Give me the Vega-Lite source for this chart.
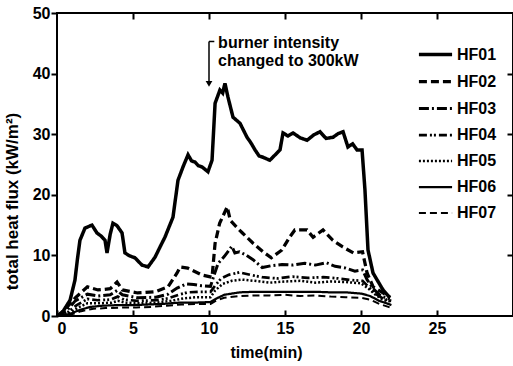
{
  "$schema": "https://vega.github.io/schema/vega-lite/v6.json",
  "width": 456,
  "height": 303,
  "autosize": {"type": "none"},
  "padding": {"left": 57, "top": 13, "right": 0, "bottom": 50},
  "background": "white",
  "config": {
    "view": {"stroke": "black", "strokeWidth": 2},
    "font": "Liberation Sans"
  },
  "datasets": {
    "flux": [
      {"s":"HF01","t":0,"q":0},{"s":"HF01","t":0.33,"q":0.5},{"s":"HF01","t":0.86,"q":2.6},{"s":"HF01","t":1.18,"q":5.9},{"s":"HF01","t":1.35,"q":9.5},{"s":"HF01","t":1.51,"q":12.5},{"s":"HF01","t":1.84,"q":14.5},{"s":"HF01","t":2.3,"q":15.0},{"s":"HF01","t":2.63,"q":13.7},{"s":"HF01","t":2.9,"q":13.2},{"s":"HF01","t":3.16,"q":12.5},{"s":"HF01","t":3.29,"q":10.4},{"s":"HF01","t":3.5,"q":13.5},{"s":"HF01","t":3.68,"q":15.3},{"s":"HF01","t":3.95,"q":14.9},{"s":"HF01","t":4.28,"q":13.7},{"s":"HF01","t":4.47,"q":10.4},{"s":"HF01","t":4.8,"q":9.9},{"s":"HF01","t":5.13,"q":9.6},{"s":"HF01","t":5.59,"q":8.4},{"s":"HF01","t":5.99,"q":8.1},{"s":"HF01","t":6.45,"q":9.7},{"s":"HF01","t":6.8,"q":11.5},{"s":"HF01","t":7.1,"q":13.0},{"s":"HF01","t":7.63,"q":16.3},{"s":"HF01","t":7.96,"q":22.4},{"s":"HF01","t":8.29,"q":24.6},{"s":"HF01","t":8.62,"q":26.6},{"s":"HF01","t":8.85,"q":25.6},{"s":"HF01","t":9.08,"q":25.4},{"s":"HF01","t":9.3,"q":24.8},{"s":"HF01","t":9.54,"q":24.6},{"s":"HF01","t":9.93,"q":23.8},{"s":"HF01","t":10.2,"q":25.7},{"s":"HF01","t":10.4,"q":35.1},{"s":"HF01","t":10.72,"q":37.3},{"s":"HF01","t":10.9,"q":36.8},{"s":"HF01","t":11.05,"q":38.4},{"s":"HF01","t":11.25,"q":36.1},{"s":"HF01","t":11.58,"q":32.8},{"s":"HF01","t":12.04,"q":31.8},{"s":"HF01","t":12.5,"q":29.5},{"s":"HF01","t":12.75,"q":28.6},{"s":"HF01","t":13.03,"q":27.4},{"s":"HF01","t":13.3,"q":26.4},{"s":"HF01","t":13.55,"q":26.2},{"s":"HF01","t":14.0,"q":25.7},{"s":"HF01","t":14.67,"q":27.4},{"s":"HF01","t":14.87,"q":30.2},{"s":"HF01","t":15.2,"q":29.7},{"s":"HF01","t":15.53,"q":30.2},{"s":"HF01","t":16.0,"q":29.4},{"s":"HF01","t":16.45,"q":29.0},{"s":"HF01","t":16.9,"q":29.9},{"s":"HF01","t":17.3,"q":30.4},{"s":"HF01","t":17.7,"q":29.3},{"s":"HF01","t":18.16,"q":29.5},{"s":"HF01","t":18.5,"q":30.1},{"s":"HF01","t":18.82,"q":30.4},{"s":"HF01","t":19.14,"q":27.9},{"s":"HF01","t":19.45,"q":28.4},{"s":"HF01","t":19.74,"q":27.4},{"s":"HF01","t":20.07,"q":27.4},{"s":"HF01","t":20.26,"q":20.8},{"s":"HF01","t":20.46,"q":10.9},{"s":"HF01","t":20.79,"q":7.1},{"s":"HF01","t":21.45,"q":4.3},{"s":"HF01","t":21.9,"q":3.0},
      {"s":"HF02","t":0,"q":0},{"s":"HF02","t":0.5,"q":1.0},{"s":"HF02","t":1.2,"q":3.0},{"s":"HF02","t":2.0,"q":4.8},{"s":"HF02","t":2.7,"q":4.3},{"s":"HF02","t":3.5,"q":4.5},{"s":"HF02","t":3.95,"q":5.6},{"s":"HF02","t":4.3,"q":4.3},{"s":"HF02","t":5.3,"q":3.8},{"s":"HF02","t":6.45,"q":4.0},{"s":"HF02","t":7.3,"q":4.8},{"s":"HF02","t":7.9,"q":7.1},{"s":"HF02","t":8.1,"q":8.1},{"s":"HF02","t":8.6,"q":7.9},{"s":"HF02","t":9.5,"q":6.8},{"s":"HF02","t":10.2,"q":6.4},{"s":"HF02","t":10.4,"q":12.0},{"s":"HF02","t":10.7,"q":15.3},{"s":"HF02","t":11.2,"q":18.0},{"s":"HF02","t":11.4,"q":15.8},{"s":"HF02","t":11.8,"q":14.7},{"s":"HF02","t":12.2,"q":13.7},{"s":"HF02","t":12.9,"q":12.0},{"s":"HF02","t":13.55,"q":10.6},{"s":"HF02","t":14.1,"q":9.6},{"s":"HF02","t":14.8,"q":10.9},{"s":"HF02","t":15.3,"q":13.0},{"s":"HF02","t":15.65,"q":14.2},{"s":"HF02","t":16.45,"q":14.2},{"s":"HF02","t":16.85,"q":13.0},{"s":"HF02","t":17.5,"q":14.2},{"s":"HF02","t":18.15,"q":12.5},{"s":"HF02","t":18.8,"q":11.4},{"s":"HF02","t":19.5,"q":10.4},{"s":"HF02","t":20.1,"q":10.6},{"s":"HF02","t":20.4,"q":7.1},{"s":"HF02","t":20.8,"q":4.8},{"s":"HF02","t":21.45,"q":3.8},{"s":"HF02","t":21.9,"q":3.1},
      {"s":"HF03","t":0,"q":0},{"s":"HF03","t":0.6,"q":0.8},{"s":"HF03","t":1.2,"q":2.5},{"s":"HF03","t":2.0,"q":3.6},{"s":"HF03","t":2.7,"q":3.3},{"s":"HF03","t":3.5,"q":3.5},{"s":"HF03","t":3.95,"q":4.2},{"s":"HF03","t":4.3,"q":3.5},{"s":"HF03","t":5.3,"q":3.0},{"s":"HF03","t":6.5,"q":3.1},{"s":"HF03","t":7.3,"q":3.6},{"s":"HF03","t":7.9,"q":4.6},{"s":"HF03","t":8.5,"q":5.3},{"s":"HF03","t":9.0,"q":5.2},{"s":"HF03","t":9.5,"q":5.0},{"s":"HF03","t":10.1,"q":4.9},{"s":"HF03","t":10.3,"q":6.5},{"s":"HF03","t":10.6,"q":8.7},{"s":"HF03","t":11.0,"q":9.8},{"s":"HF03","t":11.3,"q":10.8},{"s":"HF03","t":11.5,"q":11.5},{"s":"HF03","t":11.7,"q":10.4},{"s":"HF03","t":12.0,"q":10.6},{"s":"HF03","t":12.4,"q":10.1},{"s":"HF03","t":12.9,"q":9.3},{"s":"HF03","t":13.5,"q":8.0},{"s":"HF03","t":14.1,"q":8.3},{"s":"HF03","t":14.8,"q":8.5},{"s":"HF03","t":15.5,"q":8.4},{"s":"HF03","t":16.3,"q":8.7},{"s":"HF03","t":17.0,"q":8.4},{"s":"HF03","t":17.7,"q":8.8},{"s":"HF03","t":18.3,"q":8.2},{"s":"HF03","t":19.0,"q":7.9},{"s":"HF03","t":19.6,"q":7.4},{"s":"HF03","t":20.1,"q":7.6},{"s":"HF03","t":20.4,"q":6.0},{"s":"HF03","t":20.8,"q":4.5},{"s":"HF03","t":21.3,"q":3.3},{"s":"HF03","t":21.9,"q":2.8},
      {"s":"HF04","t":0,"q":0},{"s":"HF04","t":0.7,"q":0.6},{"s":"HF04","t":1.3,"q":1.8},{"s":"HF04","t":2.0,"q":2.8},{"s":"HF04","t":2.7,"q":2.6},{"s":"HF04","t":3.5,"q":2.7},{"s":"HF04","t":4.0,"q":3.2},{"s":"HF04","t":4.4,"q":2.7},{"s":"HF04","t":5.3,"q":2.5},{"s":"HF04","t":6.5,"q":2.6},{"s":"HF04","t":7.3,"q":2.9},{"s":"HF04","t":8.0,"q":3.5},{"s":"HF04","t":8.6,"q":3.9},{"s":"HF04","t":9.3,"q":4.0},{"s":"HF04","t":10.1,"q":4.0},{"s":"HF04","t":10.4,"q":5.0},{"s":"HF04","t":10.8,"q":6.2},{"s":"HF04","t":11.3,"q":6.8},{"s":"HF04","t":12.0,"q":7.2},{"s":"HF04","t":12.7,"q":6.8},{"s":"HF04","t":13.5,"q":6.4},{"s":"HF04","t":14.5,"q":6.2},{"s":"HF04","t":15.5,"q":6.5},{"s":"HF04","t":16.5,"q":6.3},{"s":"HF04","t":17.5,"q":6.4},{"s":"HF04","t":18.5,"q":6.2},{"s":"HF04","t":19.5,"q":5.9},{"s":"HF04","t":20.1,"q":5.8},{"s":"HF04","t":20.5,"q":4.8},{"s":"HF04","t":21.0,"q":3.6},{"s":"HF04","t":21.5,"q":2.8},{"s":"HF04","t":22.0,"q":2.5},
      {"s":"HF05","t":0,"q":0},{"s":"HF05","t":0.8,"q":0.4},{"s":"HF05","t":1.4,"q":1.4},{"s":"HF05","t":2.0,"q":2.1},{"s":"HF05","t":2.8,"q":2.1},{"s":"HF05","t":3.6,"q":2.2},{"s":"HF05","t":4.0,"q":2.5},{"s":"HF05","t":4.5,"q":2.2},{"s":"HF05","t":5.5,"q":2.1},{"s":"HF05","t":6.5,"q":2.2},{"s":"HF05","t":7.5,"q":2.5},{"s":"HF05","t":8.3,"q":2.9},{"s":"HF05","t":9.2,"q":3.1},{"s":"HF05","t":10.1,"q":3.1},{"s":"HF05","t":10.4,"q":4.2},{"s":"HF05","t":10.9,"q":5.3},{"s":"HF05","t":11.5,"q":5.8},{"s":"HF05","t":12.2,"q":6.0},{"s":"HF05","t":13.0,"q":5.8},{"s":"HF05","t":14.0,"q":5.5},{"s":"HF05","t":15.0,"q":5.7},{"s":"HF05","t":16.0,"q":5.8},{"s":"HF05","t":17.0,"q":5.5},{"s":"HF05","t":18.0,"q":5.7},{"s":"HF05","t":19.0,"q":5.6},{"s":"HF05","t":20.0,"q":5.4},{"s":"HF05","t":20.5,"q":4.5},{"s":"HF05","t":21.0,"q":3.4},{"s":"HF05","t":21.5,"q":2.6},{"s":"HF05","t":22.0,"q":2.4},
      {"s":"HF06","t":0,"q":0},{"s":"HF06","t":0.8,"q":0.3},{"s":"HF06","t":1.5,"q":1.0},{"s":"HF06","t":2.2,"q":1.5},{"s":"HF06","t":3.0,"q":1.7},{"s":"HF06","t":4.0,"q":1.8},{"s":"HF06","t":5.0,"q":1.8},{"s":"HF06","t":6.0,"q":1.9},{"s":"HF06","t":7.0,"q":2.0},{"s":"HF06","t":8.0,"q":2.2},{"s":"HF06","t":9.0,"q":2.2},{"s":"HF06","t":10.1,"q":2.3},{"s":"HF06","t":10.5,"q":2.9},{"s":"HF06","t":11.0,"q":3.5},{"s":"HF06","t":12.0,"q":3.9},{"s":"HF06","t":13.0,"q":4.0},{"s":"HF06","t":14.0,"q":4.0},{"s":"HF06","t":15.0,"q":4.0},{"s":"HF06","t":16.0,"q":4.0},{"s":"HF06","t":17.0,"q":4.0},{"s":"HF06","t":18.0,"q":3.9},{"s":"HF06","t":19.0,"q":3.9},{"s":"HF06","t":20.0,"q":3.7},{"s":"HF06","t":20.6,"q":3.3},{"s":"HF06","t":21.2,"q":2.5},{"s":"HF06","t":21.8,"q":2.0},{"s":"HF06","t":22.0,"q":1.8},
      {"s":"HF07","t":0,"q":0},{"s":"HF07","t":0.9,"q":0.2},{"s":"HF07","t":1.6,"q":0.8},{"s":"HF07","t":2.4,"q":1.2},{"s":"HF07","t":3.2,"q":1.3},{"s":"HF07","t":4.2,"q":1.4},{"s":"HF07","t":5.2,"q":1.4},{"s":"HF07","t":6.2,"q":1.5},{"s":"HF07","t":7.2,"q":1.7},{"s":"HF07","t":8.2,"q":1.9},{"s":"HF07","t":9.2,"q":2.0},{"s":"HF07","t":10.1,"q":2.0},{"s":"HF07","t":10.5,"q":2.6},{"s":"HF07","t":11.0,"q":3.0},{"s":"HF07","t":12.0,"q":3.3},{"s":"HF07","t":13.0,"q":3.4},{"s":"HF07","t":14.0,"q":3.4},{"s":"HF07","t":15.0,"q":3.5},{"s":"HF07","t":16.0,"q":3.3},{"s":"HF07","t":17.0,"q":3.4},{"s":"HF07","t":18.0,"q":3.2},{"s":"HF07","t":19.0,"q":3.1},{"s":"HF07","t":20.0,"q":3.0},{"s":"HF07","t":20.6,"q":2.7},{"s":"HF07","t":21.2,"q":2.0},{"s":"HF07","t":21.8,"q":1.5},{"s":"HF07","t":22.0,"q":1.3}
    ]
  },
  "layer": [
    {
      "data": {"name": "flux"},
      "mark": {"type": "line", "color": "black", "strokeCap": "butt"},
      "encoding": {
        "x": {
          "field": "t", "type": "quantitative",
          "scale": {"domain": [0, 30], "nice": false, "zero": false},
          "axis": {
            "orient": "bottom", "values": [0, 5, 10, 15, 20, 25], "domain": false, "grid": false,
            "tickSize": -6, "tickWidth": 2, "tickColor": "black",
            "labelFontSize": 16, "labelFontWeight": "bold", "labelColor": "black", "labelPadding": 10,
            "title": "time(min)", "titleFontSize": 16, "titleFontWeight": "bold", "titleColor": "black",
            "titleX": 209, "titleY": 36, "titleBaseline": "middle", "titleAnchor": "middle"
          }
        },
        "y": {
          "field": "q", "type": "quantitative",
          "scale": {"domain": [0, 50], "nice": false},
          "axis": {
            "orient": "left", "values": [0, 10, 20, 30, 40, 50], "domain": false, "grid": false,
            "tickSize": 6, "tickWidth": 2, "tickColor": "black",
            "labelFontSize": 16, "labelFontWeight": "bold", "labelColor": "black", "labelPadding": 1,
            "title": "total heat flux (kW/m²)", "titleFontSize": 17, "titleFontWeight": "bold", "titleColor": "black",
            "titleX": -36, "titleY": 188, "titleAnchor": "middle"
          }
        },
        "strokeDash": {
          "field": "s", "type": "nominal",
          "scale": {
            "domain": ["HF01", "HF02", "HF03", "HF04", "HF05", "HF06", "HF07"],
            "range": [[1, 0], [8, 4], [10, 3, 2, 3], [8, 3, 2, 2, 2, 3], [2, 2], [1, 0], [7, 4]]
          },
          "legend": {
            "orient": "none", "legendX": 360, "legendY": 23, "title": null,
            "symbolType": "stroke", "symbolSize": 1100, "symbolStrokeWidth": 2.5, "symbolStrokeColor": "black",
            "labelFontSize": 16, "labelFontWeight": "bold", "labelColor": "black", "labelOffset": 3,
            "rowPadding": -1, "padding": 0
          }
        },
        "strokeWidth": {
          "field": "s", "type": "nominal",
          "scale": {
            "domain": ["HF01", "HF02", "HF03", "HF04", "HF05", "HF06", "HF07"],
            "range": [3.5, 2, 2, 2, 2, 2, 2]
          },
          "legend": null
        }
      }
    },
    {
      "data": {"values": [{"t": 10, "a": 45.3, "b": 38.6}]},
      "mark": {"type": "rule", "color": "black", "strokeWidth": 1.5},
      "encoding": {
        "x": {"field": "t", "type": "quantitative", "axis": {"orient": "top", "values": [5, 10, 15, 20, 25], "labels": false, "domain": false, "grid": false, "tickSize": -6, "tickWidth": 2, "tickColor": "black", "title": null}},
        "y": {"field": "a", "type": "quantitative", "axis": {"orient": "right", "values": [10, 20, 30, 40], "labels": false, "domain": false, "grid": false, "tickSize": -6, "tickWidth": 2, "tickColor": "black", "title": null}},
        "y2": {"field": "b"}
      }
    },
    {
      "data": {"values": [{"t": 10, "t2": 10.35, "a": 45.3}]},
      "mark": {"type": "rule", "color": "black", "strokeWidth": 1.5},
      "encoding": {
        "x": {"field": "t", "type": "quantitative", "axis": null},
        "x2": {"field": "t2"},
        "y": {"field": "a", "type": "quantitative", "axis": null}
      }
    },
    {
      "data": {"values": [{"t": 10, "a": 38.3}]},
      "mark": {"type": "point", "shape": "triangle-down", "filled": true, "color": "black", "size": 45, "opacity": 1},
      "encoding": {
        "x": {"field": "t", "type": "quantitative", "axis": null},
        "y": {"field": "a", "type": "quantitative", "axis": null}
      }
    },
    {
      "data": {"values": [{"t": 10.6, "a": 45.0, "label": "burner intensity"}, {"t": 10.6, "a": 42.1, "label": "changed to 300kW"}]},
      "mark": {"type": "text", "align": "left", "baseline": "middle", "fontSize": 16, "fontWeight": "bold", "color": "black"},
      "encoding": {
        "x": {"field": "t", "type": "quantitative", "axis": null},
        "y": {"field": "a", "type": "quantitative", "axis": null},
        "text": {"field": "label"}
      }
    }
  ],
  "resolve": {"axis": {"x": "independent", "y": "independent"}}
}
